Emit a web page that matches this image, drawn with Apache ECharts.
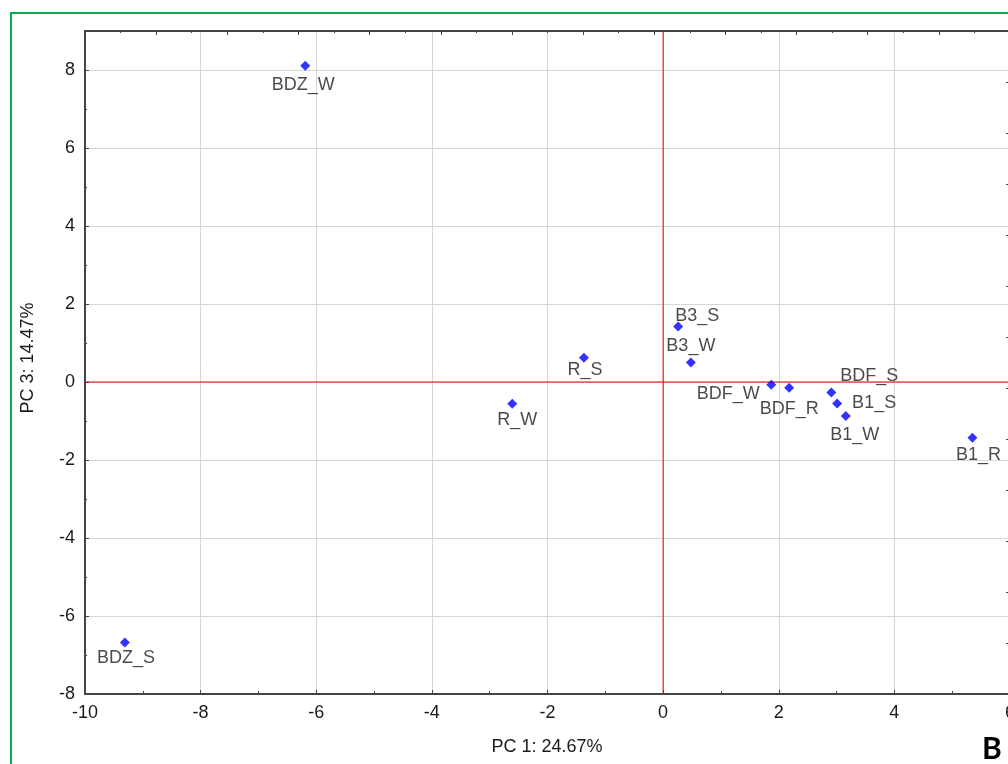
<!DOCTYPE html>
<html>
<head>
<meta charset="utf-8">
<script src="https://cdn.jsdelivr.net/npm/echarts@6/dist/echarts.min.js"></script>
<style>
html,body{margin:0;padding:0;background:#fff;}
#chart{width:1008px;height:764px;}
</style>
</head>
<body>
<div id="chart"></div>
<script>
// ---- data ----
const sampleNames = ['BDZ_W','BDZ_S','R_S','R_W','B3_S','B3_W','BDF_W','BDF_R','BDF_S','B1_S','B1_W','B1_R'];
const pc1 = [-6.19,-9.31,-1.37,-2.61,0.26,0.48,1.87,2.18,2.91,3.01,3.16,5.35];
const pc3 = [8.11,-6.68,0.62,-0.56,1.42,0.50,-0.07,-0.15,-0.27,-0.55,-0.87,-1.43];
const xTitle = 'PC 1: 24.67%';
const yTitle = 'PC 3: 14.47%';
const panelLetter = 'B';

// ---- label layout (offset of label centre from point) ----
const labelOffsets = {
  'BDZ_W':[-2,19],'BDZ_S':[1,16],'R_S':[1,12],'R_W':[5,16],
  'B3_S':[19,-11],'B3_W':[0,-16],'BDF_W':[-43,9],'BDF_R':[0,21],
  'BDF_S':[38,-16],'B1_S':[37,0],'B1_W':[9,19],'B1_R':[6,17]
};

const points = sampleNames.map((n,i)=>({
  name:n, value:[pc1[i],pc3[i]],
  label:{offset:labelOffsets[n]}
}));

const FONT = '"Liberation Sans", Arial, sans-serif';
const axisCol = '#444';
const txtCol = '#1a1a1a';
const refCol = '#e00000';

const chart = echarts.init(document.getElementById('chart'), null, {renderer:'canvas'});
chart.setOption({
  backgroundColor:'#fff',
  animation:false,
  grid:{left:85, top:31, width:925, height:663, containLabel:false, outerBoundsMode:'none'},
  xAxis:[
    {type:'value', min:-10, max:6, interval:2, position:'bottom',
     axisLine:{show:true, onZero:false, lineStyle:{color:axisCol, width:2}},
     axisTick:{show:true, inside:true, length:4, lineStyle:{color:axisCol, width:1}},
     minorTick:{show:true, splitNumber:2, length:3, lineStyle:{color:axisCol, width:1}},
     splitLine:{show:true, lineStyle:{color:'#d6d6d6', width:1}},
     axisLabel:{color:txtCol, fontSize:18, fontFamily:FONT, margin:10}},
    {type:'value', min:0, max:26, interval:2, position:'top',
     axisLine:{show:true, onZero:false, lineStyle:{color:axisCol, width:2}},
     axisTick:{show:true, inside:true, length:4, lineStyle:{color:axisCol, width:1}},
     minorTick:{show:true, splitNumber:2, length:2, lineStyle:{color:axisCol, width:1}},
     splitLine:{show:false}, axisLabel:{show:false}}
  ],
  yAxis:[
    {type:'value', min:-8, max:9, interval:2, position:'left',
     axisLine:{show:true, onZero:false, lineStyle:{color:axisCol, width:2}},
     axisTick:{show:true, inside:true, length:4, lineStyle:{color:axisCol, width:1}},
     minorTick:{show:true, splitNumber:2, length:2, lineStyle:{color:axisCol, width:1}},
     splitLine:{show:true, lineStyle:{color:'#d6d6d6', width:1}},
     axisLabel:{color:txtCol, fontSize:18, fontFamily:FONT, margin:10,
       formatter:v=> (v===9 ? '' : String(v))}},
    {type:'value', min:0, max:26, interval:2, position:'right',
     axisLine:{show:true, onZero:false, lineStyle:{color:axisCol, width:2}},
     axisTick:{show:true, inside:true, length:4, lineStyle:{color:axisCol, width:1}},
     minorTick:{show:true, splitNumber:2, length:2, lineStyle:{color:axisCol, width:1}},
     splitLine:{show:false}, axisLabel:{show:false}}
  ],
  series:[
    {type:'line', xAxisIndex:0, yAxisIndex:0, silent:true, symbol:'none',
     lineStyle:{color:refCol, width:1}, data:[[0,-8],[0,9]], z:3},
    {type:'line', xAxisIndex:0, yAxisIndex:0, silent:true, symbol:'none',
     lineStyle:{color:refCol, width:1}, data:[[-10,0],[6,0]], z:3},
    {type:'scatter', xAxisIndex:0, yAxisIndex:0,
     symbol:'diamond', symbolSize:10,
     itemStyle:{color:'#0000ff'},
     data:points,
     label:{show:true, position:'inside', formatter:'{b}', color:txtCol,
       fontSize:18, fontFamily:FONT, align:'center', verticalAlign:'middle'},
     z:5}
  ],
  graphic:[
    {type:'rect', shape:{x:11, y:13, width:1010, height:770},
     style:{fill:'none', stroke:'#00b050', lineWidth:2}, silent:true, z:-1},
    {type:'text', x:547, y:747, style:{text:xTitle, fill:txtCol, font:'18px '+FONT,
      textAlign:'center', textVerticalAlign:'middle'}},
    {type:'text', x:28, y:358, rotation:Math.PI/2, style:{text:yTitle, fill:txtCol, font:'18px '+FONT,
      textAlign:'center', textVerticalAlign:'middle'}},
    {type:'text', x:992, y:749, style:{text:panelLetter, fill:'#000', font:'bold 30px Lato, sans-serif',
      textAlign:'center', textVerticalAlign:'middle'}}
  ]
});
</script>
</body>
</html>
